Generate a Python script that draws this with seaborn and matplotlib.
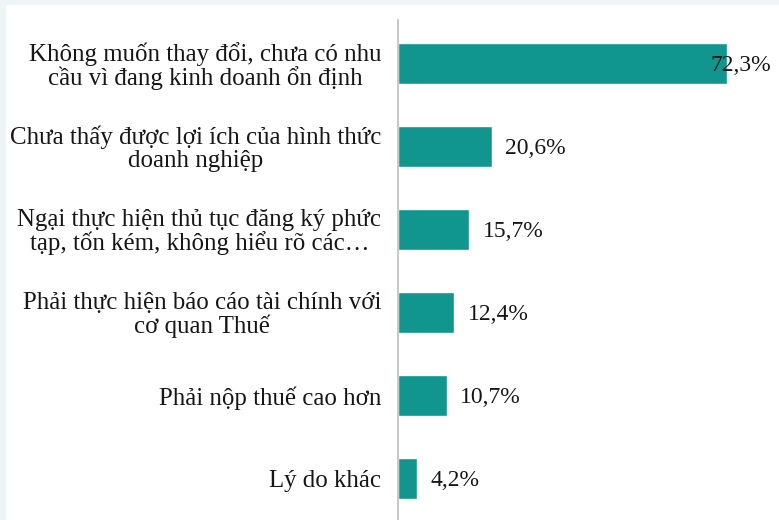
import matplotlib
matplotlib.use("Agg")
import matplotlib.pyplot as plt
from matplotlib.patches import Rectangle
import seaborn as sns
import pandas as pd

# Reasons for not converting to a registered enterprise (share of respondents, %)
categories = [
    "Không muốn thay đổi, chưa có nhu\ncầu vì đang kinh doanh ổn định",
    "Chưa thấy được lợi ích của hình thức\ndoanh nghiệp",
    "Ngại thực hiện thủ tục đăng ký phức\ntạp, tốn kém, không hiểu rõ các…",
    "Phải thực hiện báo cáo tài chính với\ncơ quan Thuế",
    "Phải nộp thuế cao hơn",
    "Lý do khác",
]
values = [72.3, 20.6, 15.7, 12.4, 10.7, 4.2]
value_labels = ["72,3%", "20,6%", "15,7%", "12,4%", "10,7%", "4,2%"]

sns.set_theme(style="white")
plt.rcParams["font.family"] = ["Liberation Serif", "DejaVu Serif"]

W, H = 779, 520
fig = plt.figure(figsize=(W / 100, H / 100), dpi=100)
fig.patch.set_facecolor("#eef5f7")
# white card over the pale frame
fig.patches.append(Rectangle((6 / W, 0), 1, 1 - 5 / H, transform=fig.transFigure,
                             facecolor="white", edgecolor="none", zorder=-10))

ax = fig.add_axes([398 / W, 0, 373 / W, 1 - 20 / H])
ax.set_zorder(5)
ax.set_facecolor("none")

df = pd.DataFrame({"reason": categories, "share": values})
sns.barplot(data=df, y="reason", x="share", orient="h", color="#10968f",
            saturation=1, width=0.49, ax=ax)

ax.set_xlim(0, 82)
ax.set_ylim(5.5, -0.52)
ax.set_xlabel("")
ax.set_ylabel("")
ax.set_xticks([])
ax.tick_params(axis="y", length=0, pad=12)
for lab in ax.get_yticklabels():
    lab.set_fontsize(17.9)
    lab.set_color("#161616")
    lab.set_multialignment("center")
    lab.set_linespacing(1.02)

for s in ["top", "right", "bottom"]:
    ax.spines[s].set_visible(False)
ax.spines["left"].set_color("#c4c4c4")
ax.spines["left"].set_linewidth(1.3)

for i, (v, t) in enumerate(zip(values, value_labels)):
    if i == 0:
        ax.annotate(t, (v, i), xytext=(-12, -1.5), textcoords="offset points",
                    ha="left", va="center", fontsize=17, color="#161616")
    else:
        ax.annotate(t, (v, i), xytext=(9.5, -1.5), textcoords="offset points",
                    ha="left", va="center", fontsize=17, color="#161616")

fig.savefig("out.png", dpi=100)
